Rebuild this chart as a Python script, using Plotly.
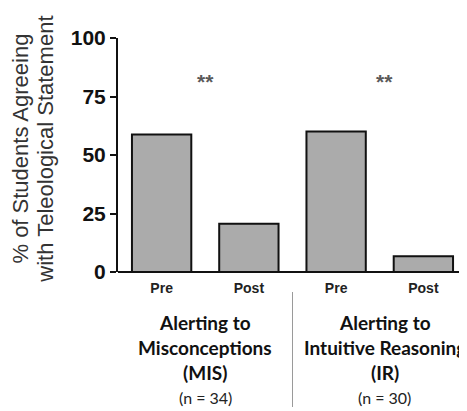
import plotly.graph_objects as go

# data
conditions = ["MIS Pre", "MIS Post", "IR Pre", "IR Post"]
tick_labels = ["Pre", "Post", "Pre", "Post"]
pct_agree = [58.8, 20.6, 60.0, 6.7]
group_lines = [["Alerting to", "Misconceptions", "(MIS)"],
               ["Alerting to", "Intuitive Reasoning", "(IR)"]]
group_n = ["(n = 34)", "(n = 30)"]
group_x = [0.5, 2.56]
sig_marks = ["**", "**"]
sig_x = [0.5, 2.55]
sig_height = 81.5

x = list(range(len(conditions)))
PLOT_H = 234  # pixel height of plot area, used to place labels below the axis

fig = go.Figure()
fig.add_trace(go.Bar(
    x=x, y=pct_agree, width=0.68,
    marker=dict(color="#ababab", line=dict(color="#111111", width=2)),
    showlegend=False,
))

# significance stars
for sx, s in zip(sig_x, sig_marks):
    fig.add_annotation(x=sx, y=sig_height, xref="x", yref="y",
                       text="<b>%s</b>" % s, showarrow=False,
                       font=dict(family="Liberation Sans", size=21, color="#5a5a5a"))

# group labels below the axis, one line at a time
for gx, lines, n in zip(group_x, group_lines, group_n):
    for k, line in enumerate(lines):
        fig.add_annotation(x=gx, y=-(50 + 25 * k) / PLOT_H, xref="x", yref="paper",
                           text="<b>%s</b>" % line, showarrow=False, yanchor="middle",
                           font=dict(family="Lato", size=19, color="#111111"))
    fig.add_annotation(x=gx, y=-125 / PLOT_H, xref="x", yref="paper",
                       text=n, showarrow=False, yanchor="middle",
                       font=dict(family="Lato", size=16, color="#222222"))

# separator between groups
fig.add_shape(type="line", x0=1.5, x1=1.5, y0=-20 / PLOT_H, y1=-135 / PLOT_H,
              xref="x", yref="paper", line=dict(color="#9a9a9a", width=1))

# y title, two rotated lines
for tx, line in zip([-0.279, -0.207], ["% of Students Agreeing", "with Teleological Statement"]):
    fig.add_annotation(x=tx, y=0.526, xref="paper", yref="paper",
                       text=line, textangle=-90, showarrow=False,
                       xanchor="center", yanchor="middle",
                       font=dict(family="Liberation Sans", size=22, color="#333333"))

fig.update_xaxes(
    range=[-0.5, 3.5], tickvals=x,
    ticktext=["<b>%s</b>" % t for t in tick_labels],
    tickfont=dict(family="Liberation Sans", size=14, color="#222222"),
    showline=False, showgrid=False, zeroline=False,
    ticks="outside", ticklen=3, tickcolor="rgba(0,0,0,0)",
)
fig.update_yaxes(
    range=[0, 100], tickvals=[0, 25, 50, 75, 100],
    ticktext=["<b>%d</b>" % v for v in [0, 25, 50, 75, 100]],
    tickfont=dict(family="Liberation Sans", size=21, color="#111111"),
    showline=True, linecolor="#111111", linewidth=2,
    ticks="outside", ticklen=6, tickwidth=2, tickcolor="#111111",
    showgrid=False, zeroline=True, zerolinecolor="#111111", zerolinewidth=2,
)

# page body adds an 8px margin, so the figure is 8px smaller than the window
fig.update_layout(
    width=459, height=403,
    margin=dict(l=110, r=0, t=30, b=139),
    plot_bgcolor="white", paper_bgcolor="white",
)

fig.write_html("out.html")
